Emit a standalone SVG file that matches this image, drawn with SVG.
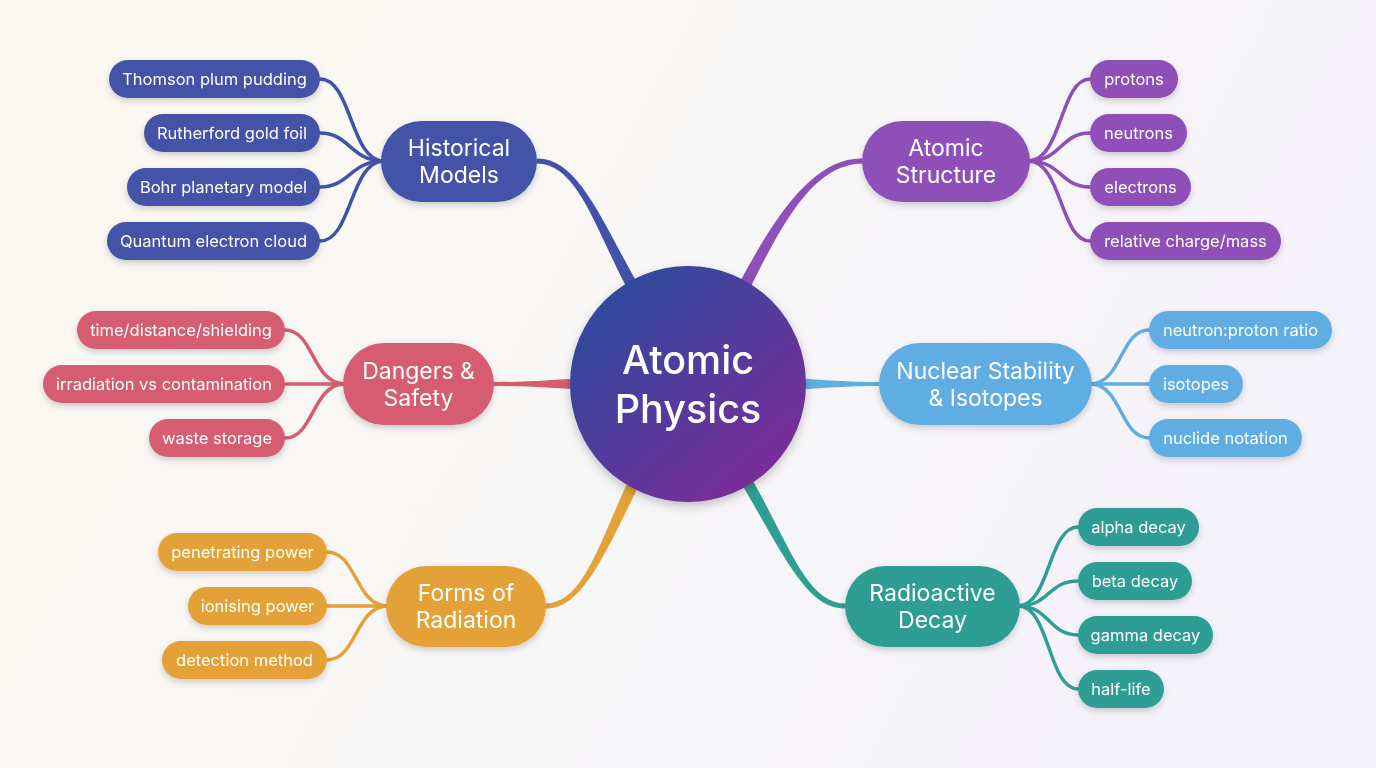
<svg xmlns="http://www.w3.org/2000/svg" width="1376" height="768" viewBox="0 0 1376 768">
<defs>
<linearGradient id="bg" x1="0" y1="0" x2="1" y2="0.3">
<stop offset="0" stop-color="#fbf8ef"/>
<stop offset="0.5" stop-color="#f8f7f6"/>
<stop offset="1" stop-color="#f5f3fa"/>
</linearGradient>
<linearGradient id="core" x1="0.15" y1="0.1" x2="0.85" y2="0.9">
<stop offset="0" stop-color="#2d4a9e"/>
<stop offset="1" stop-color="#7c2c99"/>
</linearGradient>
<filter id="sh" x="-20%" y="-30%" width="140%" height="170%">
<feDropShadow dx="0" dy="3" stdDeviation="3" flood-color="#000" flood-opacity="0.18"/>
</filter>
<filter id="shc" x="-20%" y="-20%" width="140%" height="140%">
<feDropShadow dx="0" dy="4" stdDeviation="5" flood-color="#000" flood-opacity="0.22"/>
</filter>
</defs>
<style>
text{font-family:Inter,"Liberation Sans",sans-serif;fill:#fff;text-anchor:middle}
.leaf{font-size:16.5px}
.main{font-size:23px}
.core{font-size:39.5px;font-weight:500}
.lk{fill:none;stroke-width:3.5;stroke-linecap:round}
.hm{fill:#4352a8}.hms{stroke:#4352a8}
.as{fill:#8e4fb8}.ass{stroke:#8e4fb8}
.ds{fill:#d65d71}.dss{stroke:#d65d71}
.ns{fill:#5eade3}.nss{stroke:#5eade3}
.fr{fill:#e4a139}.frs{stroke:#e4a139}
.rd{fill:#2f9e94}.rds{stroke:#2f9e94}
</style>
<rect width="1376" height="768" fill="url(#bg)"/>

<g id="connectors">
<path class="hm" d="M537,158.5 C580,157.5 604.3,227.5 645.2,297 L634.8,303 C595.7,232.5 580,164.5 537,163.5 Z"/>
<path class="as" d="M862,158.5 C815,157.5 775.5,212.8 734.6,292.3 L745.4,297.7 C784.5,217.2 815,164.5 862,163.5 Z"/>
<path class="ds" d="M494,382 C530,382 550,380 585,378 L585,390 C550,388 530,386 494,386 Z"/>
<path class="ns" d="M792,378 C826,380 846,382 879,382 L879,386 C846,386 826,388 792,390 Z"/>
<path class="fr" d="M546,603.5 C585,602.5 600.5,537.8 634.6,467.3 L645.4,472.7 C609.5,542.2 585,609.5 546,608.5 Z"/>
<path class="rd" d="M845,603.5 C805,602.5 789.3,542.4 745.1,466.9 L734.9,473.1 C780.7,547.6 805,609.5 845,608.5 Z"/>

<g class="hms">
<path class="lk" d="M384,161 C350,161 352,79 320,79"/>
<path class="lk" d="M384,161 C350,161 350,133 320,133"/>
<path class="lk" d="M384,161 C350,161 350,187 320,187"/>
<path class="lk" d="M384,161 C350,161 352,241 320,241"/>
</g>
<g class="ass">
<path class="lk" d="M1028,161 C1062,161 1060,79 1090,79"/>
<path class="lk" d="M1028,161 C1062,161 1060,133 1090,133"/>
<path class="lk" d="M1028,161 C1062,161 1060,187 1090,187"/>
<path class="lk" d="M1028,161 C1062,161 1060,241 1090,241"/>
</g>
<g class="dss">
<path class="lk" d="M345,384 C312,384 314,330 285,330"/>
<path class="lk" d="M345,384 L285,384"/>
<path class="lk" d="M345,384 C312,384 314,438 285,438"/>
</g>
<g class="nss">
<path class="lk" d="M1090,384 C1122,384 1120,330 1149,330"/>
<path class="lk" d="M1090,384 L1149,384"/>
<path class="lk" d="M1090,384 C1122,384 1120,438 1149,438"/>
</g>
<g class="frs">
<path class="lk" d="M388,606 C355,606 357,552 327,552"/>
<path class="lk" d="M388,606 L327,606"/>
<path class="lk" d="M388,606 C355,606 357,660 327,660"/>
</g>
<g class="rds">
<path class="lk" d="M1018,606 C1050,606 1048,527 1078,527"/>
<path class="lk" d="M1018,606 C1050,606 1048,581 1078,581"/>
<path class="lk" d="M1018,606 C1050,606 1048,635 1078,635"/>
<path class="lk" d="M1018,606 C1050,606 1048,689 1078,689"/>
</g>
</g>

<g id="core" filter="url(#shc)">
<circle cx="688" cy="384" r="118" fill="url(#core)"/>
<text class="core" x="688" y="374">Atomic</text>
<text class="core" x="688" y="423">Physics</text>
</g>

<g id="historical-models" filter="url(#sh)">
<rect class="hm" x="381" y="121" width="156" height="81" rx="40.5"/>
<text class="main" x="459" y="156">Historical</text>
<text class="main" x="459" y="183">Models</text>
</g>
<g id="hm-thomson" filter="url(#sh)"><rect class="hm" x="109" y="60" width="211" height="38" rx="19"/><text class="leaf" x="214.5" y="85">Thomson plum pudding</text></g>
<g id="hm-rutherford" filter="url(#sh)"><rect class="hm" x="144" y="114" width="176" height="38" rx="19"/><text class="leaf" x="232" y="139">Rutherford gold foil</text></g>
<g id="hm-bohr" filter="url(#sh)"><rect class="hm" x="127" y="168" width="193" height="38" rx="19"/><text class="leaf" x="223.5" y="193">Bohr planetary model</text></g>
<g id="hm-quantum" filter="url(#sh)"><rect class="hm" x="107" y="222" width="213" height="38" rx="19"/><text class="leaf" x="213.5" y="247">Quantum electron cloud</text></g>

<g id="atomic-structure" filter="url(#sh)">
<rect class="as" x="862" y="121" width="168" height="81" rx="40.5"/>
<text class="main" x="946" y="156">Atomic</text>
<text class="main" x="946" y="183">Structure</text>
</g>
<g id="as-protons" filter="url(#sh)"><rect class="as" x="1090" y="60" width="88" height="38" rx="19"/><text class="leaf" x="1134" y="85">protons</text></g>
<g id="as-neutrons" filter="url(#sh)"><rect class="as" x="1090" y="114" width="97" height="38" rx="19"/><text class="leaf" x="1138.5" y="139">neutrons</text></g>
<g id="as-electrons" filter="url(#sh)"><rect class="as" x="1090" y="168" width="101" height="38" rx="19"/><text class="leaf" x="1140.5" y="193">electrons</text></g>
<g id="as-charge" filter="url(#sh)"><rect class="as" x="1090" y="222" width="191" height="38" rx="19"/><text class="leaf" x="1185.5" y="247">relative charge/mass</text></g>

<g id="dangers-safety" filter="url(#sh)">
<rect class="ds" x="343" y="343" width="151" height="82" rx="41"/>
<text class="main" x="418.5" y="379">Dangers &amp;</text>
<text class="main" x="418.5" y="406">Safety</text>
</g>
<g id="ds-tds" filter="url(#sh)"><rect class="ds" x="77" y="311" width="208" height="38" rx="19"/><text class="leaf" x="181" y="336">time/distance/shielding</text></g>
<g id="ds-irr" filter="url(#sh)"><rect class="ds" x="43" y="365" width="242" height="38" rx="19"/><text class="leaf" x="164" y="390">irradiation vs contamination</text></g>
<g id="ds-waste" filter="url(#sh)"><rect class="ds" x="149" y="419" width="136" height="38" rx="19"/><text class="leaf" x="217" y="444">waste storage</text></g>

<g id="nuclear-stability" filter="url(#sh)">
<rect class="ns" x="879" y="343" width="213" height="82" rx="41"/>
<text class="main" x="985.5" y="379">Nuclear Stability</text>
<text class="main" x="985.5" y="406">&amp; Isotopes</text>
</g>
<g id="ns-ratio" filter="url(#sh)"><rect class="ns" x="1149" y="311" width="183" height="38" rx="19"/><text class="leaf" x="1240.5" y="336">neutron:proton ratio</text></g>
<g id="ns-isotopes" filter="url(#sh)"><rect class="ns" x="1149" y="365" width="94" height="38" rx="19"/><text class="leaf" x="1196" y="390">isotopes</text></g>
<g id="ns-nuclide" filter="url(#sh)"><rect class="ns" x="1149" y="419" width="153" height="38" rx="19"/><text class="leaf" x="1225.5" y="444">nuclide notation</text></g>

<g id="forms-radiation" filter="url(#sh)">
<rect class="fr" x="386" y="566" width="160" height="81" rx="40.5"/>
<text class="main" x="466" y="601">Forms of</text>
<text class="main" x="466" y="628">Radiation</text>
</g>
<g id="fr-pen" filter="url(#sh)"><rect class="fr" x="158" y="533" width="169" height="38" rx="19"/><text class="leaf" x="242.5" y="558">penetrating power</text></g>
<g id="fr-ion" filter="url(#sh)"><rect class="fr" x="188" y="587" width="139" height="38" rx="19"/><text class="leaf" x="257.5" y="612">ionising power</text></g>
<g id="fr-det" filter="url(#sh)"><rect class="fr" x="162" y="641" width="165" height="38" rx="19"/><text class="leaf" x="244.5" y="666">detection method</text></g>

<g id="radioactive-decay" filter="url(#sh)">
<rect class="rd" x="845" y="566" width="175" height="81" rx="40.5"/>
<text class="main" x="932.5" y="601">Radioactive</text>
<text class="main" x="932.5" y="628">Decay</text>
</g>
<g id="rd-alpha" filter="url(#sh)"><rect class="rd" x="1078" y="508" width="121" height="38" rx="19"/><text class="leaf" x="1138.5" y="533">alpha decay</text></g>
<g id="rd-beta" filter="url(#sh)"><rect class="rd" x="1078" y="562" width="114" height="38" rx="19"/><text class="leaf" x="1135" y="587">beta decay</text></g>
<g id="rd-gamma" filter="url(#sh)"><rect class="rd" x="1078" y="616" width="135" height="38" rx="19"/><text class="leaf" x="1145.5" y="641">gamma decay</text></g>
<g id="rd-half" filter="url(#sh)"><rect class="rd" x="1078" y="670" width="86" height="38" rx="19"/><text class="leaf" x="1121" y="695">half-life</text></g>
</svg>
